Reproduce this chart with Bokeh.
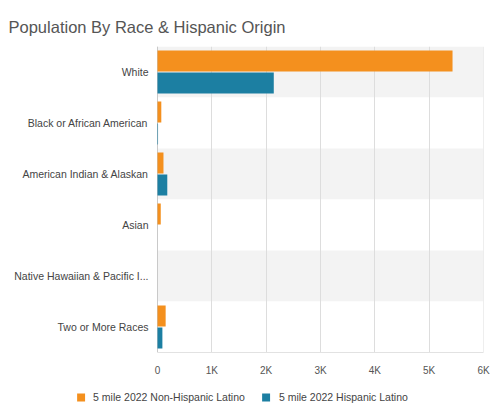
from bokeh.plotting import figure
from bokeh.layouts import column
from bokeh.models import ColumnDataSource, FactorRange, FixedTicker, Legend, LegendItem, LinearAxis
from bokeh.core.properties import value
from bokeh.transform import dodge
from bokeh.embed import file_html
from bokeh.resources import INLINE

categories = ["White", "Black or African American", "American Indian & Alaskan",
              "Asian", "Native Hawaiian & Pacific I...", "Two or More Races"]
non_hispanic = [5430, 70, 110, 60, 0, 150]
hispanic = [2140, 10, 180, 0, 0, 90]
tick_values = [0, 1000, 2000, 3000, 4000, 5000, 6000]
tick_labels = ["0", "1K", "2K", "3K", "4K", "5K", "6K"]
series_names = ["5 mile 2022 Non-Hispanic Latino", "5 mile 2022 Hispanic Latino"]
title_text = "Population By Race & Hispanic Origin"

ORANGE = "#F4901E"
BLUE = "#1C7FA2"
FONT = "Liberation Sans"
W = 496
MAIN_H, LEG_H = 385, 24
LABEL_AREA = 157          # px left of the value axis zero, reserved for category labels
RIGHT_PAD = 13

src = ColumnDataSource(dict(cat=categories, nh=non_hispanic, h=hispanic,
                            band=["#F3F3F3" if i % 2 == 0 else "#FFFFFF" for i in range(len(categories))],
                            zero=[tick_values[0]] * len(categories),
                            full=[tick_values[-1]] * len(categories)))

x_span = tick_values[-1] - tick_values[0]
plot_px = W - LABEL_AREA - RIGHT_PAD
x_start = tick_values[0] - LABEL_AREA * x_span / plot_px

p = figure(width=W, height=MAIN_H, output_backend="svg", toolbar_location=None,
           y_range=FactorRange(factors=list(reversed(categories))),
           x_range=(x_start, tick_values[-1]), y_axis_location=None,
           min_border_left=0, min_border_right=RIGHT_PAD, min_border_top=46, min_border_bottom=33,
           title=title_text)
p.y_range.range_padding = 0

p.title.text_font = FONT
p.title.text_font_size = "16.5px"
p.title.text_font_style = "normal"
p.title.text_color = "#555555"
p.title.offset = 8

# main value axis (configured before any other axis is added)
xax = p.xaxis[0]
xax.ticker = FixedTicker(ticks=tick_values)
xax.bounds = (tick_values[0], tick_values[-1])
xax.major_label_overrides = {v: l for v, l in zip(tick_values, tick_labels)}
xax.major_tick_line_color = None
xax.minor_tick_line_color = None
xax.major_tick_out = 0
xax.minor_tick_out = 0
xax.axis_line_color = "#E2E2E2"
xax.major_label_text_font = FONT
xax.major_label_text_font_size = "10px"
xax.major_label_text_color = "#555555"
xax.major_label_standoff = 12

# blank gap between the title and the plot area
gap = LinearAxis(ticker=FixedTicker(ticks=tick_values[-1:]),
                 major_label_overrides={tick_values[-1]: ""},
                 major_label_text_font_size="1px",
                 axis_line_color=None, major_tick_line_color=None, minor_tick_line_color=None,
                 major_tick_out=6, major_tick_in=0, minor_tick_out=0, minor_tick_in=0,
                 major_label_standoff=0)
p.add_layout(gap, "above")

# alternating row bands
p.hbar(y="cat", left="zero", right="full", height=1, fill_color="band", line_color=None, source=src)
# vertical grid lines and value-axis line
p.vspan(x=tick_values, line_color="#DDDDDD", line_width=1)
p.vspan(x=tick_values[:1], line_color="#C9C9C9", line_width=1)

r1 = p.hbar(y=dodge("cat", 0.215, range=p.y_range), left="zero", right="nh", height=0.41,
            fill_color=ORANGE, line_color=None, source=src)
r2 = p.hbar(y=dodge("cat", -0.215, range=p.y_range), left="zero", right="h", height=0.41,
            fill_color=BLUE, line_color=None, source=src)

# category labels
p.text(x="zero", y="cat", text="cat", source=src, x_offset=-9, text_align="right",
       text_baseline="middle", text_font=value(FONT), text_font_size="10.5px", text_color="#444444")

p.grid.visible = False
p.outline_line_color = None

# ---- legend strip below the chart
leg = figure(width=W, height=LEG_H, output_backend="svg", toolbar_location=None,
             y_range=FactorRange(factors=list(reversed(categories))),
             x_range=(x_start, tick_values[-1]), x_axis_type=None, y_axis_location=None,
             min_border_left=0, min_border_right=RIGHT_PAD, min_border_top=0, min_border_bottom=0)
leg.grid.visible = False
leg.outline_line_color = None
l1 = leg.hbar(y="cat", left="zero", right="nh", height=0.41, fill_color=ORANGE,
              line_color=None, source=src, visible=False)
l2 = leg.hbar(y="cat", left="zero", right="h", height=0.41, fill_color=BLUE,
              line_color=None, source=src, visible=False)
legend = Legend(items=[LegendItem(label=series_names[0], renderers=[l1]),
                       LegendItem(label=series_names[1], renderers=[l2])],
                orientation="horizontal", location="center", click_policy="none",
                label_text_font=FONT, label_text_font_size="10.5px", label_text_color="#444444",
                glyph_width=10, glyph_height=10, spacing=16, padding=0, margin=0,
                label_standoff=8, label_height=10, border_line_color=None, background_fill_alpha=0,
                inactive_fill_alpha=0)
leg.add_layout(legend, "center")

layout = column(p, leg, spacing=0)
open("out.html", "w").write(file_html(layout, INLINE))
